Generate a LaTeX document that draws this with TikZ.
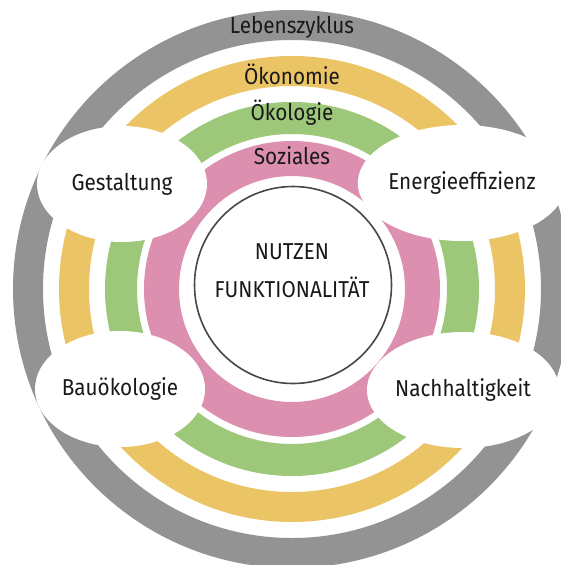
\documentclass[tikz,border=0pt]{standalone}
\usepackage{fontspec}
\setmainfont{Fira Sans}[FakeStretch=0.9]
\usetikzlibrary{shapes.geometric}

\definecolor{zyklus}{RGB}{147,147,147}
\definecolor{oekonomie}{RGB}{235,196,102}
\definecolor{oekologie}{RGB}{157,200,122}
\definecolor{soziales}{RGB}{220,143,174}
\definecolor{schrift}{RGB}{25,25,25}

\tikzset{
  blob/.style={ellipse, fill=white, minimum width=170pt, minimum height=116pt, inner sep=0pt},
  txt/.style={font=\fontsize{23}{23}\selectfont, text=schrift}
}

\begin{document}
\begin{tikzpicture}[x=1pt,y=-1pt]
                \useasboundingbox (0,0) rectangle (561,565);
                \clip (0,0) rectangle (561,565);

                %% Ringe
                \fill[zyklus, even odd rule]    (292,289) circle (279pt) (292,289) circle (249pt);
                \fill[oekonomie, even odd rule] (292,289) circle (233pt) (292,289) circle (203pt);
                \fill[oekologie, even odd rule] (292,289) circle (187pt) (292,289) circle (155pt);
                \fill[soziales, even odd rule]  (292,289) circle (148pt) (292,289) circle (113pt);

                %% Felder
                \node[blob, txt] (gestaltung) at (122,184) {Gestaltung};
                \node[blob, txt] (energie)    at (462,183) {Energieeffizienz};
                \node[blob, txt] (bauoeko)    at (120,389) {Bauökologie};
                \node[blob, txt] (nachhalt)   at (463,390) {Nachhaltigkeit};

                %% Beschriftung der Ringe
                \node[txt] (lebenszyklus) at (292,27)  {Lebenszyklus};
                \node[txt] (oekonomie)    at (292,74)  {Ökonomie};
                \node[txt] (oekologie)    at (292,113) {Ökologie};
                \node[txt] (soziales)     at (292,156) {Soziales};

                %% Mitte
                \node[circle, draw=schrift!80, line width=1.6pt, fill=white, minimum size=197pt] (mitte) at (293,285) {};
                \node[txt, align=center] (nutzen) at (292,271) {NUTZEN\\[15pt]FUNKTIONALITÄT};
\end{tikzpicture}
\end{document}
